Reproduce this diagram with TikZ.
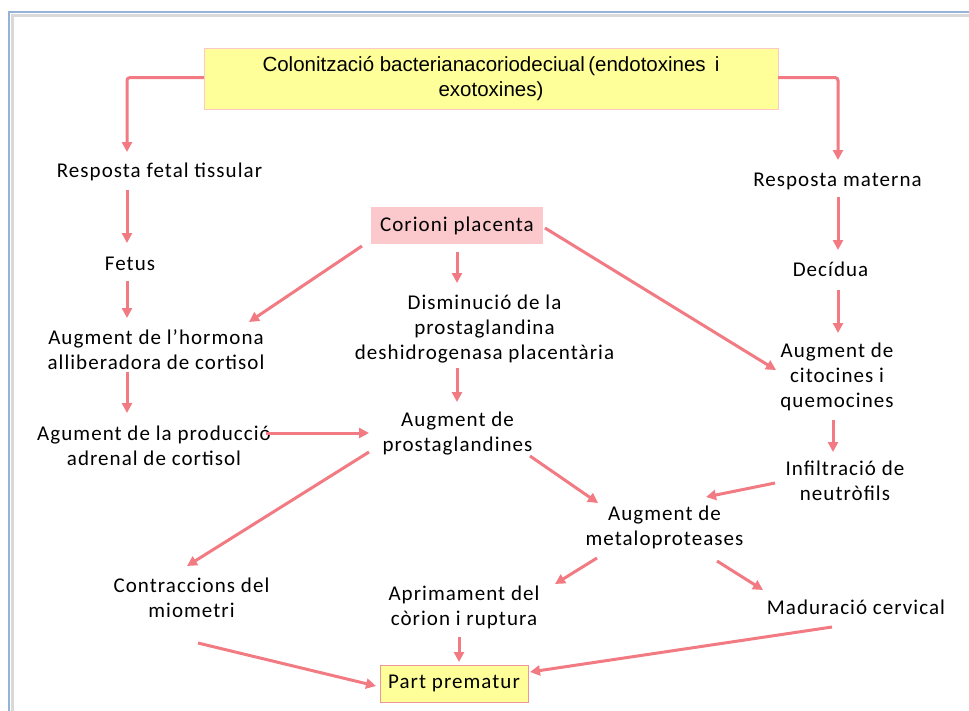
\documentclass[tikz,border=0pt]{standalone}
\usepackage{fontspec}
\setmainfont{Carlito}[LetterSpace=5]
\newfontfamily\arialf{Liberation Sans}
\usetikzlibrary{arrows.meta,calc}
\definecolor{conncol}{RGB}{242,122,130}
\definecolor{framecol}{RGB}{149,179,215}
\definecolor{yellowfill}{RGB}{255,255,153}
\definecolor{topborder}{RGB}{255,200,200}
\definecolor{pinkfill}{RGB}{251,201,204}
\definecolor{partborder}{RGB}{240,150,150}
\begin{document}
\begin{tikzpicture}[x=1pt,y=-1pt, font=\fontsize{21}{25}\selectfont,
  lbl/.style={align=center, inner sep=0pt},
  conn/.style={draw=conncol, line width=3pt, -{Triangle[length=10pt,width=10pt]}}]
\useasboundingbox (0,0) rectangle (969,710);
\fill[white] (0,0) rectangle (969,710);
% frame
\draw[black!15, line width=3pt] (11,15) -- (980,15);
\draw[black!15, line width=3pt] (12,14) -- (12,720);
\draw[framecol, line width=1.6pt] (980,12) -- (9,12) -- (9,720);
% boxes
\node[draw=topborder, fill=yellowfill, minimum width=574pt, minimum height=61pt, inner sep=0pt, align=center, font=\arialf\fontsize{20.5}{25}\selectfont] (top) at (491,79) {Colonització bacterianacoriodeciual\,(endotoxines\, i\\exotoxines)};
\fill[white] (0,0) rectangle (0,0);
\node[fill=pinkfill, minimum width=172pt, minimum height=37pt, inner sep=0pt] (cor) at (457,225.5) {Corioni placenta};
\node[draw=partborder, line width=1pt, fill=yellowfill, minimum width=148pt, minimum height=37pt, inner sep=0pt] (part) at (454,683.5) {Part prematur};
% text nodes
\node[lbl] (fetal) at (159.5,172) {Resposta fetal tissular};
\node[lbl] (fetus) at (130,264) {Fetus};
\node[lbl] (horm) at (156,349.5) {Augment de l’hormona\\alliberadora de cortisol};
\node[lbl] (agu) at (154,445.5) {Agument de la producció\\adrenal de cortisol};
\node[lbl] (dism) at (484.5,329) {Disminució de la\\prostaglandina\\deshidrogenasa placentària};
\node[lbl] (prost) at (457.5,433.5) {Augment de\\prostaglandines};
\node[lbl] (mat) at (837.5,181) {Resposta materna};
\node[lbl] (dec) at (830.5,269) {Decídua};
\node[lbl] (cito) at (837,377) {Augment de\\citocines i\\quemocines};
\node[lbl] (inf) at (845,480.5) {Infiltració de\\neutròfils};
\node[lbl] (meta) at (664.5,527.5) {Augment de\\metaloproteases};
\node[lbl] (contr) at (191.5,597.5) {Contraccions del\\miometri};
\node[lbl] (apr) at (464,607.5) {Aprimament del\\còrion i ruptura};
\node[lbl] (mad) at (856,607) {Maduració cervical};
% connectors
\draw[conn, rounded corners=3pt] ($(top.west)+(0,-1.5)$) -| ($(fetal)+(-32.5,-20)$);
\draw[conn, rounded corners=3pt] ($(top.east)+(0,-1.5)$) -| ($(mat)+(0.5,-21)$);
\draw[conn] ($(fetal)+(-32.5,18)$) -- ($(fetus)+(-3,-21)$);
\draw[conn] ($(fetus)+(-3,17)$) -- ($(horm)+(-29,-31.5)$);
\draw[conn] ($(horm)+(-29,22.5)$) -- ($(agu)+(-27,-32.5)$);
\draw[conn] ($(agu)+(112,-12.5)$) -- ($(prost)+(-88.5,-0.5)$);
\draw[conn] ($(cor)+(-95,20.5)$) -- ($(horm)+(93,-27.5)$);
\draw[conn] ($(cor)+(0,26.5)$) -- ($(dism)+(-27.5,-46)$);
\draw[conn] ($(cor)+(88,2.5)$) -- ($(cito)+(-61,-7)$);
\draw[conn] ($(dism)+(-27.5,39)$) -- ($(prost)+(-0.5,-31.5)$);
\draw[conn] ($(prost)+(-88.5,18.5)$) -- ($(contr)+(-4.5,-31.5)$);
\draw[conn] ($(prost)+(72.5,22.5)$) -- ($(meta)+(-66.5,-24.5)$);
\draw[conn] ($(mat)+(0.5,16)$) -- ($(dec)+(7.5,-19)$);
\draw[conn] ($(dec)+(7.5,21)$) -- ($(cito)+(1,-44)$);
\draw[conn] ($(cito)+(-4,43)$) -- ($(inf)+(-12,-28.5)$);
\draw[conn] ($(inf)+(-70,2.5)$) -- ($(meta)+(41.5,-30.5)$);
\draw[conn] ($(meta)+(-67.5,30.5)$) -- ($(apr)+(91,-23.5)$);
\draw[conn] ($(meta)+(52.5,33.5)$) -- ($(mad)+(-93,-17)$);
\draw[conn] ($(contr)+(6.5,45.5)$) -- ($(part)+(-78,2.5)$);
\draw[conn] ($(apr)+(-5,29.5)$) -- ($(part)+(5,-21.5)$);
\draw[conn] ($(mad)+(-24,20)$) -- ($(part)+(76,-11.5)$);
\end{tikzpicture}
\end{document}
